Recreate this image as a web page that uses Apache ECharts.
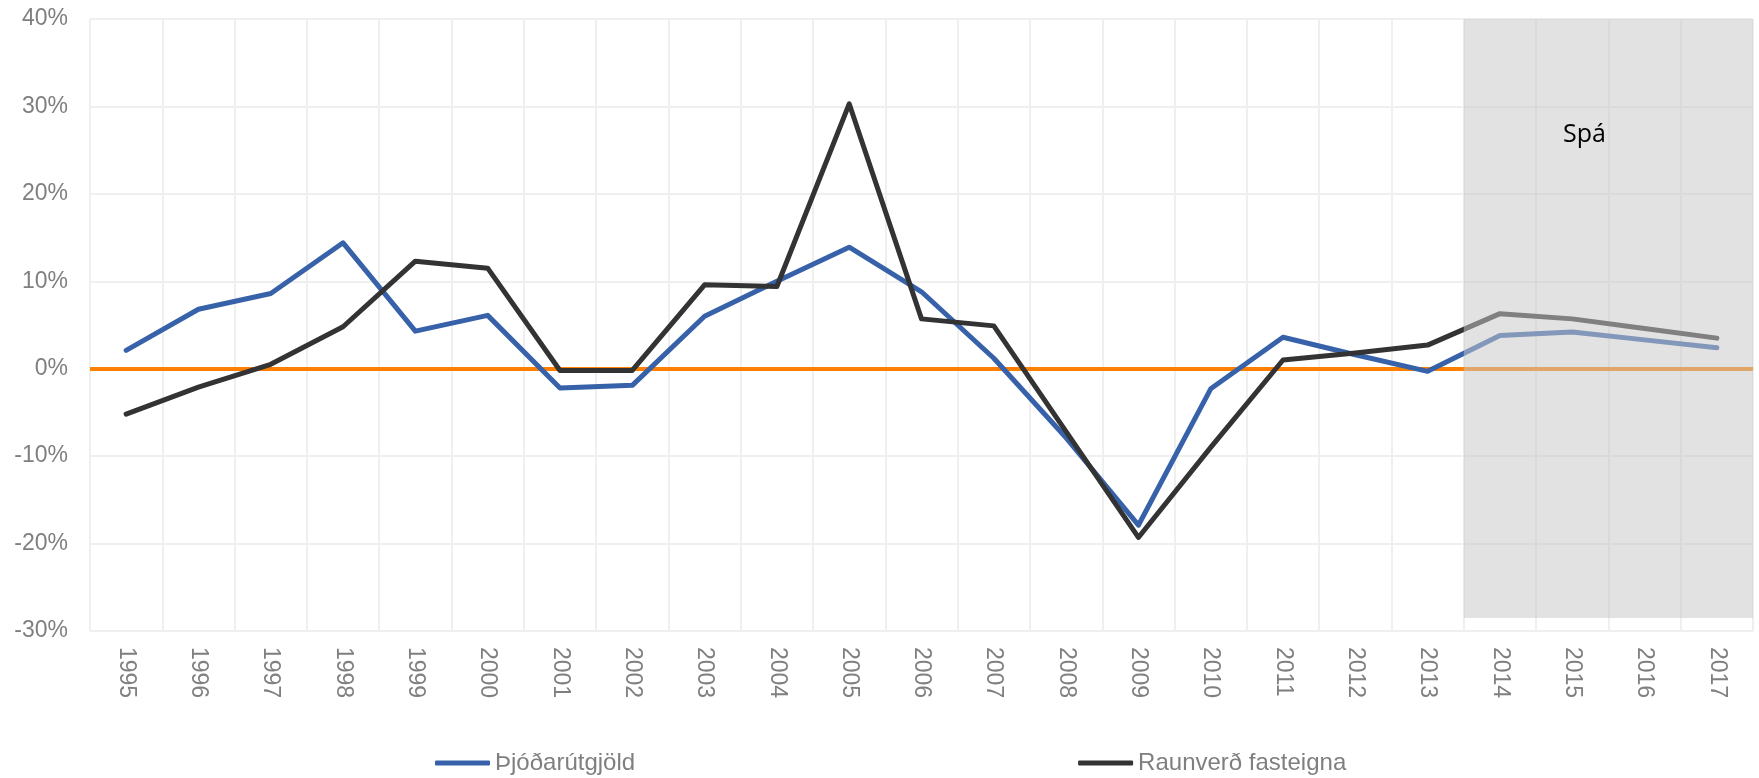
<!DOCTYPE html>
<html>
<head>
<meta charset="utf-8">
<title>Þjóðarútgjöld og raunverð fasteigna</title>
<script src="https://cdn.jsdelivr.net/npm/echarts@6/dist/echarts.min.js"></script>
<style>
  html, body { margin: 0; padding: 0; background: #fff; }
  #main { width: 1759px; height: 778px; }
</style>
</head>
<body>
<div id="main"></div>
<script>
// ár
var years = ['1995', '1996', '1997', '1998', '1999', '2000', '2001', '2002', '2003', '2004', '2005', '2006',
  '2007', '2008', '2009', '2010', '2011', '2012', '2013', '2014', '2015', '2016', '2017'];

// breyting milli ára, %
var thjodarutgjold = [2.1, 6.8, 8.6, 14.4, 4.3, 6.1, -2.2, -1.9, 6.0, 10.0, 13.9, 8.8,
  1.2, -7.9, -17.9, -2.3, 3.6, 1.6, -0.3, 3.8, 4.2, 3.3, 2.4];
var raunverd = [-5.2, -2.1, 0.5, 4.8, 12.3, 11.5, -0.2, -0.2, 9.6, 9.4, 30.3, 5.7,
  4.9, -7.2, -19.3, -9.0, 1.0, 1.8, 2.7, 6.3, 5.7, 4.6, 3.5];

// spátímabil (2014-2017), sem bil á hjálparás
var spaFra = 19;
var spaTil = 23;
var spaNedst = -28.5;

var chart = echarts.init(document.getElementById('main'));

var greyText = '#7f7f7f';
var gridLine = { show: true, lineStyle: { color: '#efefef', width: 2 } };

var option = {
  animation: false,
  textStyle: { fontFamily: 'Liberation Sans' },
  grid: { left: 90, right: 6, top: 19, bottom: 147 },
  legend: {
    left: 435,
    top: 751,
    padding: 0,
    itemWidth: 55,
    itemHeight: 5,
    itemGap: 443,
    icon: 'roundRect',
    textStyle: { color: greyText, fontSize: 24, fontFamily: 'Liberation Sans' },
    data: ['Þjóðarútgjöld', 'Raunverð fasteigna']
  },
  xAxis: [
    {
      type: 'category',
      data: years,
      boundaryGap: true,
      axisLine: { show: false, onZero: false },
      axisTick: { show: false },
      splitLine: gridLine,
      axisLabel: {
        rotate: -90,
        margin: 16,
        color: greyText,
        fontSize: 23,
        fontFamily: 'Liberation Sans'
      }
    },
    {
      type: 'value',
      min: 0,
      max: years.length,
      show: false
    }
  ],
  yAxis: {
    type: 'value',
    min: -30,
    max: 40,
    interval: 10,
    axisLine: { show: false },
    axisTick: { show: false },
    splitLine: gridLine,
    axisLabel: {
      formatter: '{value}%',
      margin: 22,
      color: greyText,
      fontSize: 23,
      fontFamily: 'Liberation Sans'
    }
  },
  series: [
    {
      name: 'núlllína',
      type: 'line',
      data: [],
      z: 1,
      silent: true,
      markLine: {
        silent: true,
        z: 1,
        symbol: ['none', 'none'],
        label: { show: false },
        lineStyle: { color: '#ff7f00', width: 4, type: 'solid' },
        data: [{ yAxis: 0 }]
      }
    },
    {
      name: 'Þjóðarútgjöld',
      type: 'line',
      data: thjodarutgjold,
      z: 2,
      symbol: 'none',
      color: '#3762a9',
      lineStyle: { color: '#3762a9', width: 5, cap: 'round', join: 'round' }
    },
    {
      name: 'Raunverð fasteigna',
      type: 'line',
      data: raunverd,
      z: 2,
      symbol: 'none',
      color: '#333333',
      lineStyle: { color: '#333333', width: 5, cap: 'round', join: 'round' }
    },
    {
      name: 'spá',
      type: 'line',
      xAxisIndex: 1,
      data: [],
      z: 10,
      silent: true,
      markArea: {
        silent: true,
        z: 10,
        itemStyle: { color: 'rgba(200,200,200,0.52)' },
        label: {
          show: true,
          position: 'insideTop',
          distance: 0,
          offset: [-24, 103],
          color: '#000',
          fontSize: 25,
          fontFamily: 'Open Sans'
        },
        data: [[
          { name: 'Spá', xAxis: spaFra, yAxis: 40 },
          { xAxis: spaTil, yAxis: spaNedst }
        ]]
      }
    }
  ]
};

chart.setOption(option);
</script>
</body>
</html>
